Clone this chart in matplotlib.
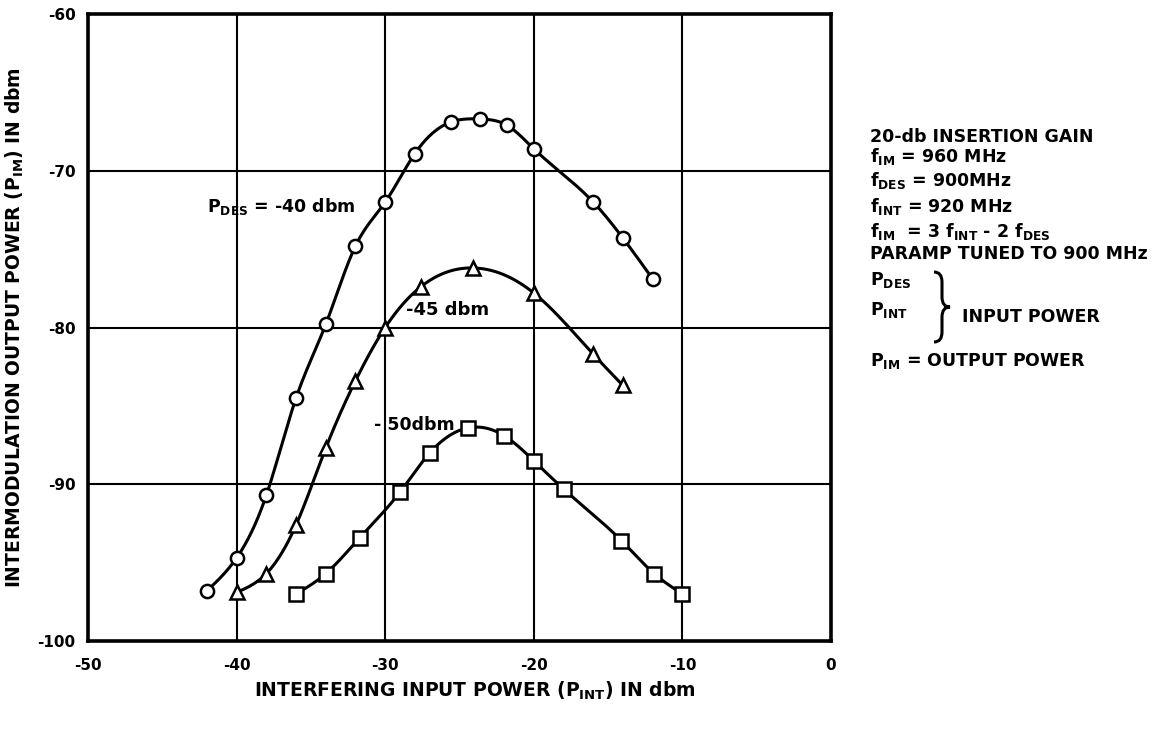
import numpy as np
import matplotlib.pyplot as plt
from matplotlib.path import Path
from matplotlib.patches import PathPatch

plt.rcParams['font.family'] = ['DejaVu Sans']
plt.rcParams['font.weight'] = 'bold'
plt.rcParams['axes.unicode_minus'] = False

# measured points, one series per desired-signal level
pdes40_x = [-42, -40, -38, -36, -34, -32, -30, -28, -25.6, -23.6, -21.8, -20, -16, -14, -12]
pdes40_y = [-96.8, -94.7, -90.7, -84.5, -79.8, -74.8, -72.0, -68.9, -66.9, -66.7, -67.1, -68.6, -72.0, -74.3, -76.9]

pdes45_x = [-40, -38, -36, -34, -32, -30, -27.6, -24.1, -20, -16, -14]
pdes45_y = [-96.9, -95.7, -92.6, -87.7, -83.4, -80.0, -77.4, -76.2, -77.8, -81.7, -83.7]

pdes50_x = [-36, -34, -31.7, -29, -27, -24.4, -22, -20, -18, -14.1, -11.9, -10]
pdes50_y = [-97.0, -95.7, -93.4, -90.5, -88.0, -86.4, -86.9, -88.5, -90.3, -93.6, -95.7, -97.0]

x_ticks = [-50, -40, -30, -20, -10, 0]
y_ticks = [-100, -90, -80, -70, -60]

notes = [
    (142, r'20-db INSERTION GAIN'),
    (162, r'$\mathregular{f_{IM}}$ = 960 MHz'),
    (186, r'$\mathregular{f_{DES}}$ = 900MHz'),
    (212, r'$\mathregular{f_{INT}}$ = 920 MHz'),
    (237, r'$\mathregular{f_{IM}}$  = 3 $\mathregular{f_{INT}}$ - 2 $\mathregular{f_{DES}}$'),
    (259, r'PARAMP TUNED TO 900 MHz'),
    (285, r'$\mathregular{P_{DES}}$'),
    (315, r'$\mathregular{P_{INT}}$'),
    (366, r'$\mathregular{P_{IM}}$ = OUTPUT POWER'),
]


def spline(xs, ys, n=400):
    # natural cubic spline through the measured points
    x = np.asarray(xs, float)
    y = np.asarray(ys, float)
    h = np.diff(x)
    m = len(x)
    A = np.zeros((m, m))
    r = np.zeros(m)
    A[0, 0] = A[-1, -1] = 1
    for i in range(1, m - 1):
        A[i, i - 1] = h[i - 1]
        A[i, i] = 2 * (h[i - 1] + h[i])
        A[i, i + 1] = h[i]
        r[i] = 3 * ((y[i + 1] - y[i]) / h[i] - (y[i] - y[i - 1]) / h[i - 1])
    c = np.linalg.solve(A, r)
    b = (y[1:] - y[:-1]) / h - h * (2 * c[:-1] + c[1:]) / 3
    d = (c[1:] - c[:-1]) / (3 * h)
    xx = np.linspace(x[0], x[-1], n)
    k = np.clip(np.searchsorted(x, xx) - 1, 0, m - 2)
    dx = xx - x[k]
    return xx, y[k] + b[k] * dx + c[k] * dx ** 2 + d[k] * dx ** 3


W, H = 1169, 729
fig = plt.figure(figsize=(W / 100, H / 100), dpi=100)
ax = fig.add_axes([88 / W, 1 - 641 / H, 743 / W, 627 / H])

for xs, ys, mk in [(pdes40_x, pdes40_y, 'o'), (pdes45_x, pdes45_y, '^'), (pdes50_x, pdes50_y, 's')]:
    cx, cy = spline(xs, ys)
    ax.plot(cx, cy, color='black', lw=2.2, zorder=3, solid_capstyle='round')
    ax.plot(xs, ys, ls='none', marker=mk, ms=10 if mk == 's' else 9.5,
            mfc='white', mec='black', mew=1.8, zorder=4)

ax.set_xlim(-50, 0)
ax.set_ylim(-100, -60)
ax.set_xticks(x_ticks)
ax.set_yticks(y_ticks)
ax.set_xticklabels([str(v) for v in x_ticks])
ax.set_yticklabels([str(v) for v in y_ticks])
ax.tick_params(length=0, labelsize=11)
ax.tick_params(axis='x', pad=12)
ax.tick_params(axis='y', pad=9)
ax.grid(True, color='black', lw=1.5)
ax.set_axisbelow(True)
for s in ax.spines.values():
    s.set_linewidth(2.6)

ax.set_xlabel(r'INTERFERING INPUT POWER ($\mathregular{P_{INT}}$) IN dbm',
              fontsize=13.5, fontweight='bold', va='center')
ax.xaxis.set_label_coords(0.521, -0.08)
ax.set_ylabel(r'INTERMODULATION OUTPUT POWER ($\mathregular{P_{IM}}$) IN dbm',
              fontsize=13.5, fontweight='bold', va='center')
ax.yaxis.set_label_coords(-0.098, 0.5)

# curve labels
ax.text(-42.0, -72.6, r'$\mathregular{P_{DES}}$ = -40 dbm', fontsize=12.5, va='baseline')
ax.text(-28.6, -79.2, '-45 dbm', fontsize=13, va='baseline')
ax.text(-30.75, -86.55, '- 50dbm', fontsize=12.5, va='baseline')

# side notes
for y, s in notes:
    fig.text(870 / W, 1 - y / H, s, fontsize=12.5, va='baseline', ha='left')
fig.text(962 / W, 1 - 322 / H, 'INPUT POWER', fontsize=12.5, va='baseline', ha='left')

# curly brace grouping the two input powers
bx, by0, by1, bw = 934, 272, 342, 16
bm = (by0 + by1) / 2
r = 10
px = [(bx, by0), (bx + bw / 2, by0), (bx + bw / 2, by0 + r),
      (bx + bw / 2, bm - r),
      (bx + bw / 2, bm), (bx + bw, bm),
      (bx + bw / 2, bm), (bx + bw / 2, bm + r),
      (bx + bw / 2, by1 - r),
      (bx + bw / 2, by1), (bx, by1)]
codes = [Path.MOVETO, Path.CURVE3, Path.CURVE3, Path.LINETO,
         Path.CURVE3, Path.CURVE3, Path.CURVE3, Path.CURVE3,
         Path.LINETO, Path.CURVE3, Path.CURVE3]
verts = [(x / W, 1 - y / H) for x, y in px]
fig.add_artist(PathPatch(Path(verts, codes), transform=fig.transFigure,
                         fill=False, lw=2.2, color='black'))

fig.savefig('out.png', dpi=100)
